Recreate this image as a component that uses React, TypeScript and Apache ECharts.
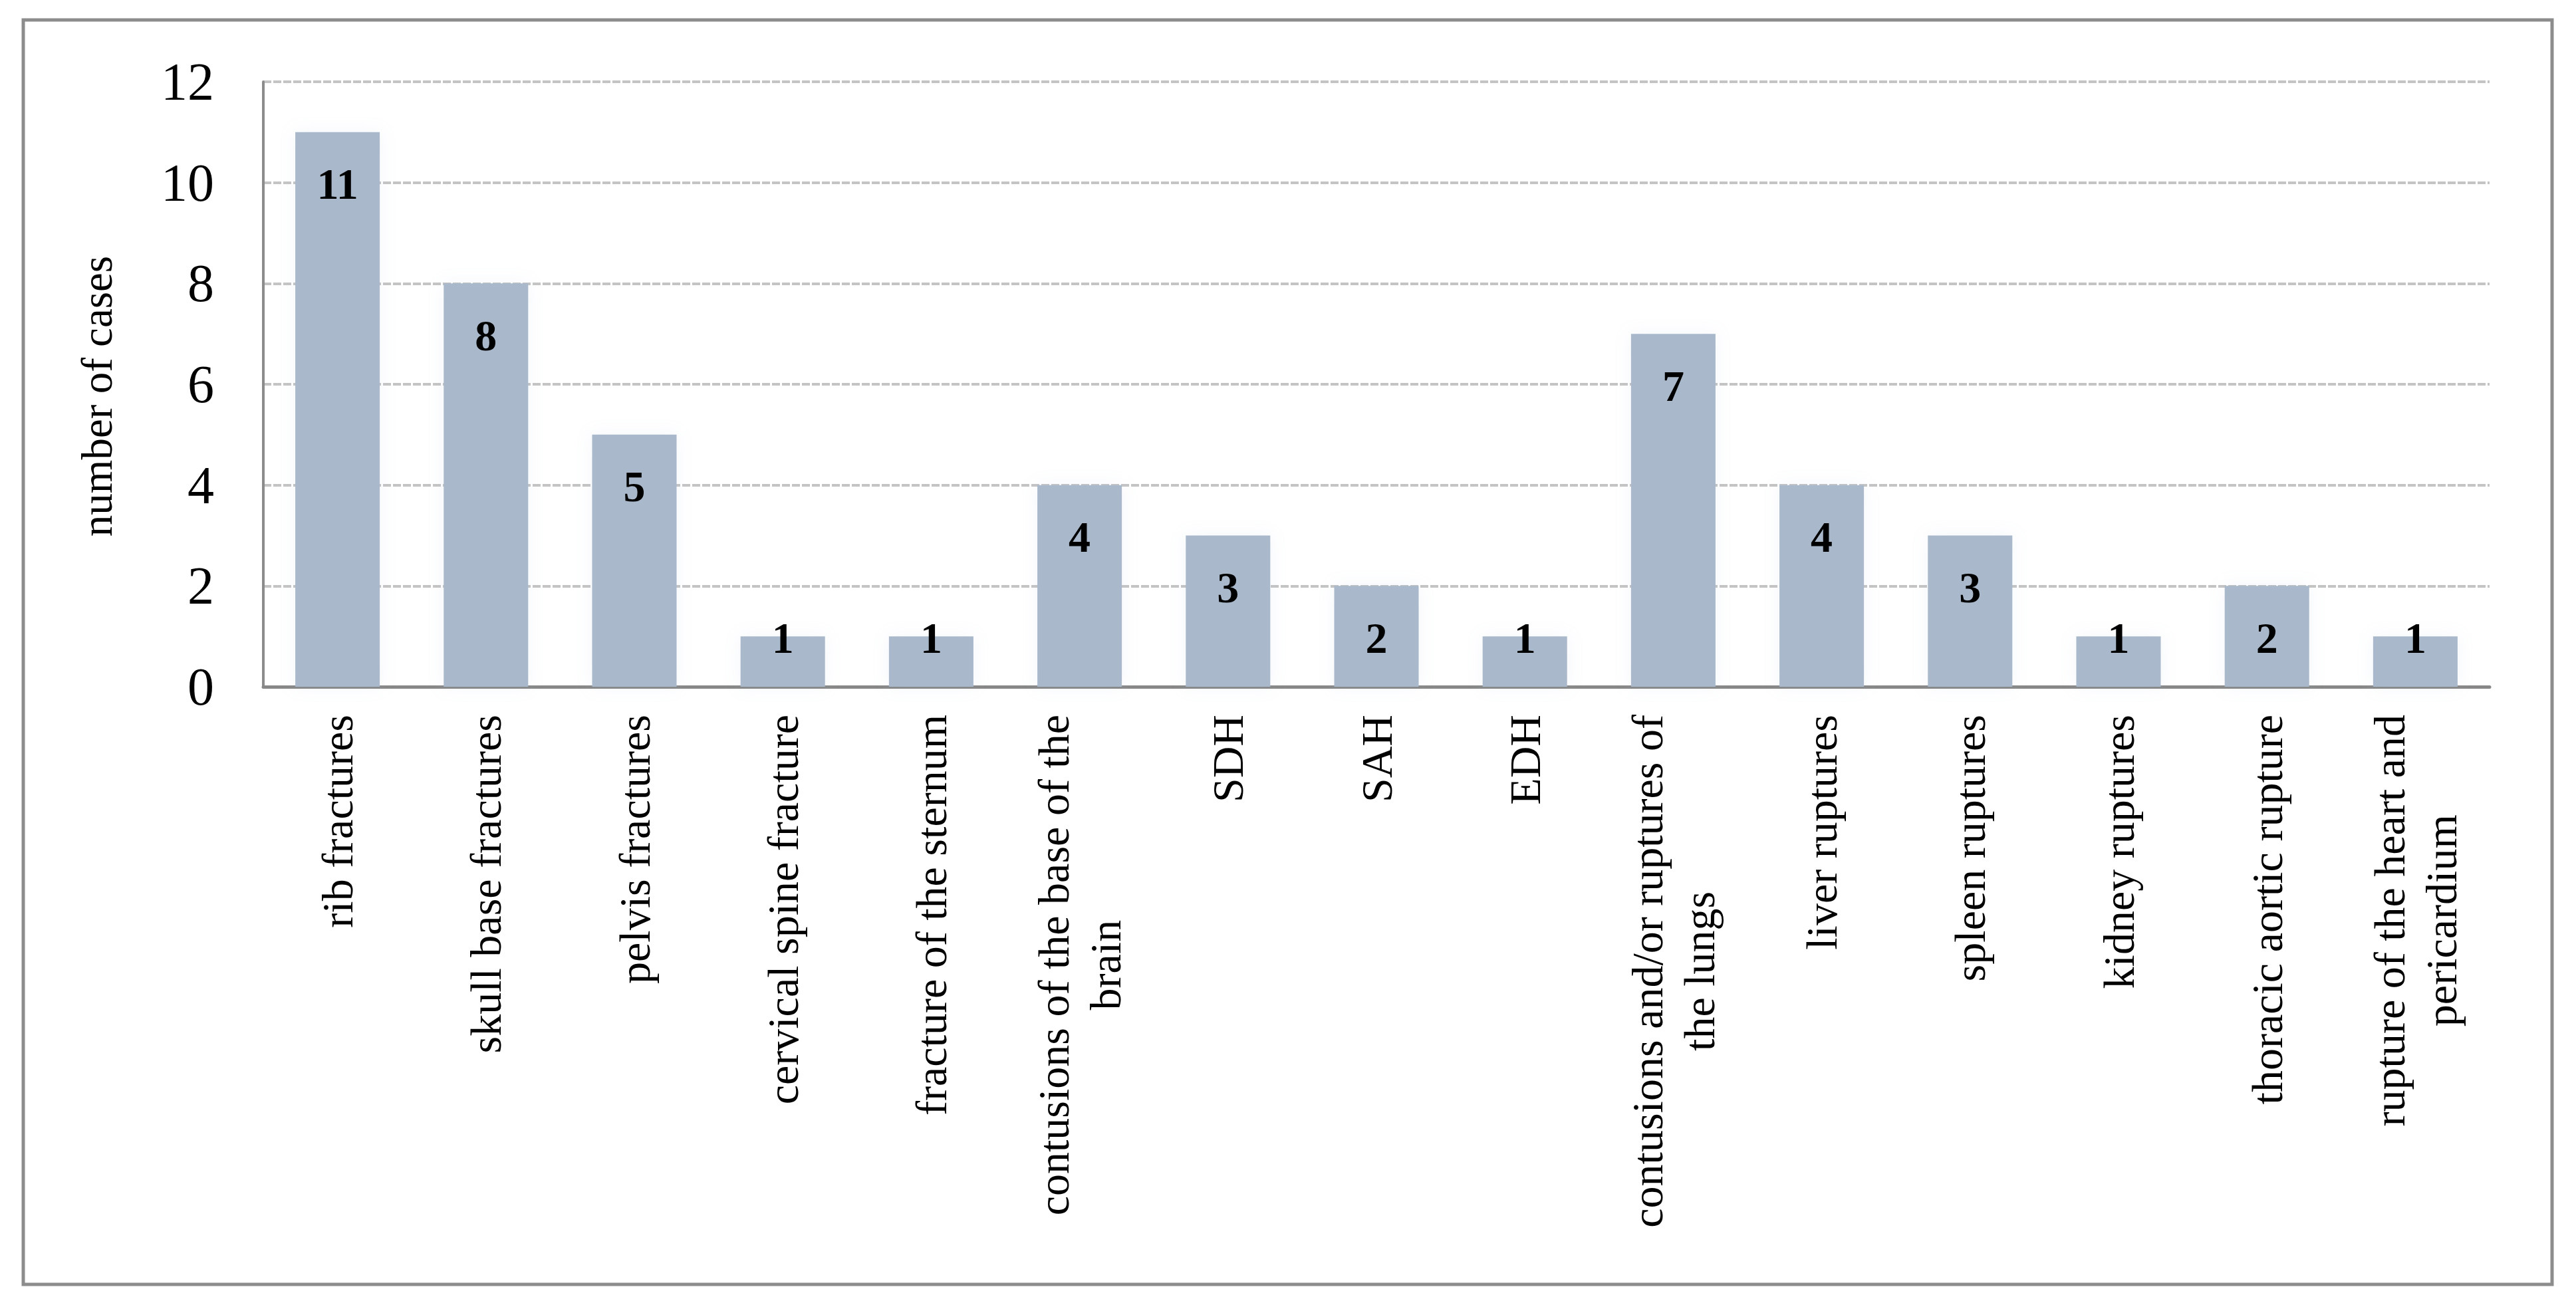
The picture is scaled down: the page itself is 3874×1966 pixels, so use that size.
import React, { useEffect, useRef } from "react";
import * as echarts from "echarts";

const categories: string[] = [
  "rib fractures",
  "skull base fractures",
  "pelvis fractures",
  "cervical spine fracture",
  "fracture of the sternum",
  "contusions of the base of the brain",
  "SDH",
  "SAH",
  "EDH",
  "contusions and/or ruptures of the lungs",
  "liver ruptures",
  "spleen ruptures",
  "kidney ruptures",
  "thoracic aortic rupture",
  "rupture of the heart and pericardium",
];

const cases: number[] = [11, 8, 5, 1, 1, 4, 3, 2, 1, 7, 4, 3, 1, 2, 1];

const yTicks = { min: 0, max: 12, interval: 2 };
const yAxisName = "number of cases";

// where the long category labels wrap onto a second line
const wrapAt: Record<string, [string, string]> = {
  "contusions of the base of the brain": ["contusions of the base of the", "brain"],
  "contusions and/or ruptures of the lungs": ["contusions and/or ruptures of", "the lungs"],
  "rupture of the heart and pericardium": ["rupture of the heart and", "pericardium"],
};

const FONT = "'Liberation Serif', 'Times New Roman', serif";

export default function App() {
  const ref = useRef<HTMLDivElement>(null);

  useEffect(() => {
    if (!ref.current) return;
    const chart = echarts.init(ref.current, undefined, { renderer: "svg" });

    const barData = cases.map((v) =>
      v < 2 ? { value: v, label: { distance: -31 } } : { value: v }
    );

    chart.setOption({
      animation: false,
      backgroundColor: "#ffffff",
      textStyle: { fontFamily: FONT },
      graphic: [
        {
          type: "rect",
          shape: { x: 35, y: 30, width: 3803, height: 1902 },
          style: { fill: "none", stroke: "#8c8c8c", lineWidth: 5 },
          silent: true,
        },
      ],
      grid: { left: 396, right: 130, top: 123, bottom: 933, containLabel: false },
      xAxis: {
        type: "category",
        data: categories,
        axisLine: { show: true, lineStyle: { color: "#888888", width: 5 } },
        axisTick: { show: false },
        splitLine: { show: false },
        axisLabel: {
          interval: 0,
          rotate: 90,
          margin: 42,
          fontSize: 66,
          lineHeight: 78,
          color: "#000000",
          fontFamily: FONT,
          formatter: (val: string) => {
            const w = wrapAt[val];
            if (w) return "{a|" + w[0] + "}\n{c|" + w[1] + "}";
            return "{a|" + val + "}";
          },
          rich: {
            a: { fontSize: 66, lineHeight: 78, color: "#000000", fontFamily: FONT },
            c: { fontSize: 66, lineHeight: 78, color: "#000000", fontFamily: FONT, align: "center" },
          },
        },
      },
      yAxis: {
        type: "value",
        min: yTicks.min,
        max: yTicks.max,
        interval: yTicks.interval,
        name: yAxisName,
        nameLocation: "middle",
        nameRotate: 90,
        nameGap: 218,
        nameTextStyle: { fontSize: 65, color: "#000000", fontFamily: FONT, padding: [0, 36, 0, 0] },
        axisLine: { show: true, lineStyle: { color: "#8c8c8c", width: 4 } },
        axisTick: { show: false },
        axisLabel: { fontSize: 80, margin: 74, color: "#000000", fontFamily: FONT },
        splitLine: {
          show: true,
          lineStyle: { color: "#c4c4c4", width: 4, type: [12, 3] },
        },
      },
      series: [
        {
          type: "bar",
          data: barData,
          barWidth: 127,
          itemStyle: {
            color: "#a9b8cb",
            shadowBlur: 24,
            shadowColor: "rgba(150,170,205,0.12)",
          },
          label: {
            show: true,
            position: "insideTop",
            distance: 45,
            fontSize: 66,
            lineHeight: 66,
            fontWeight: "bold",
            color: "#000000",
            fontFamily: FONT,
          },
        },
      ],
    });

    return () => chart.dispose();
  }, []);

  return (
    <div
      ref={ref}
      style={{ position: "absolute", left: 0, top: 0, width: 3874, height: 1966, background: "#ffffff" }}
    />
  );
}
